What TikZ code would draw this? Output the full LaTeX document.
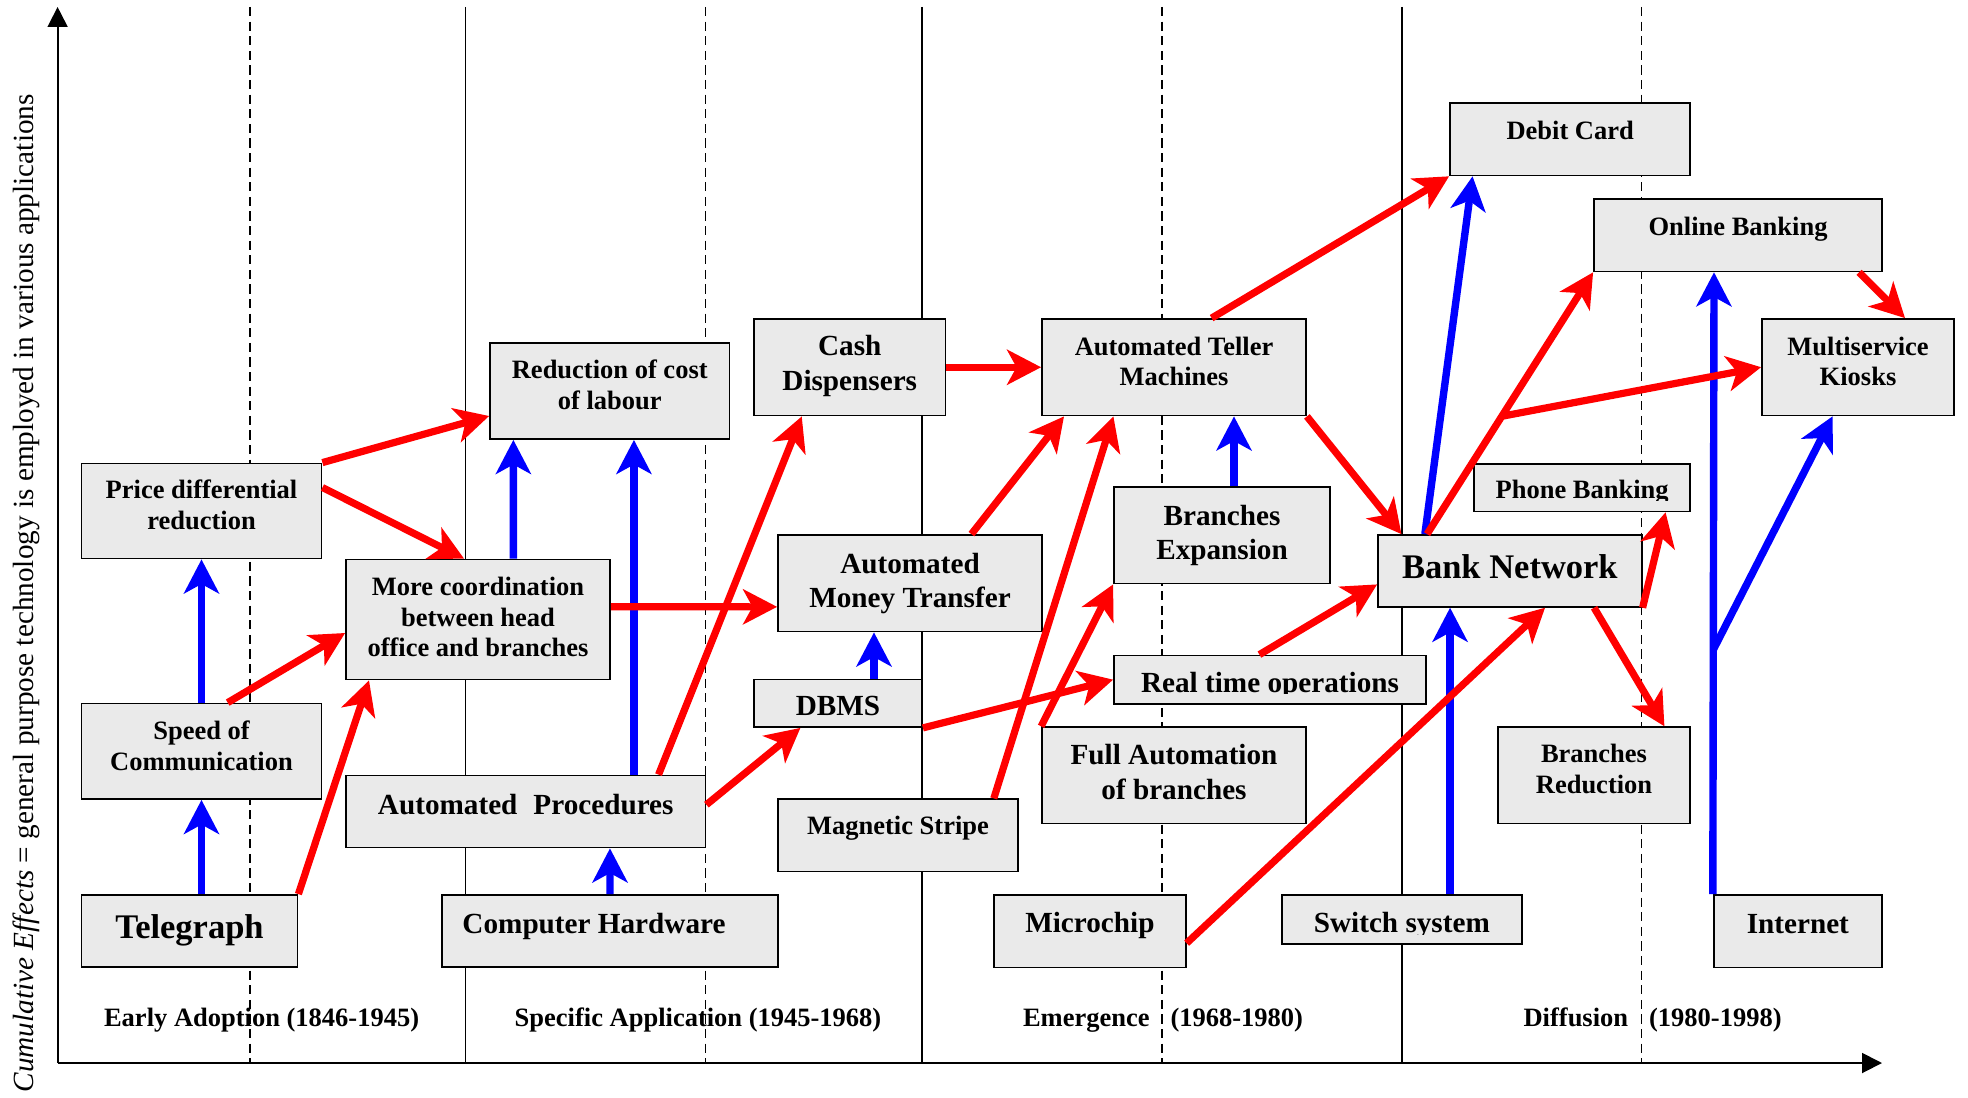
\documentclass[tikz,border=0pt]{standalone}
\usepackage{fontspec}
\usepackage{graphicx}
\usetikzlibrary{arrows.meta,fit,calc}
\newfontfamily\tms{Liberation Serif}
\definecolor{boxgray}{HTML}{EAEAEA}
\definecolor{arrred}{HTML}{FF0000}
\definecolor{arrblue}{HTML}{0000FF}
\newcommand\mkbox[5]{\node[box, fit={(#2,#3) (#4,#5)}] (#1) {};}
\begin{document}
\begin{tikzpicture}[x=0.5pt,y=-0.5pt,
  box/.style={draw=black, fill=boxgray, line width=0.9pt, inner sep=0pt},
  fs/.style={font=\tms\bfseries\fontsize{13.25}{15.25}\selectfont},
  fm/.style={font=\tms\bfseries\fontsize{14.6}{17.25}\selectfont},
  fl/.style={font=\tms\bfseries\fontsize{17.25}{20}\selectfont},
  txt/.style={align=center, inner sep=0pt, anchor=base},
  redarr/.style={draw=arrred, line width=3.6pt, -{Stealth[length=17pt,width=17.5pt,inset=4.7pt]}},
  bluearr/.style={draw=arrblue, line width=3.7pt, -{Stealth[length=17pt,width=17.5pt,inset=4.7pt]}},
  sepline/.style={line width=0.7pt},
  dsepline/.style={line width=0.7pt, dash pattern=on 4.6pt off 2.7pt},
  axis/.style={line width=0.9pt, -{Triangle[length=10pt,width=10pt]}},
]
\useasboundingbox (0,0) rectangle (1968,1097);

% period separators
\foreach \xx in {465.6,922,1402} \draw[sepline] (\xx,7) -- (\xx,1063);
\foreach \xx in {250,705.5,1162,1641.7} \draw[dsepline] (\xx,7) -- (\xx,1063);

% axes
\coordinate (origin) at (57.6,1063);
\coordinate (ytop) at (57.6,7);
\coordinate (xend) at (1882,1063);
\draw[axis] (origin) -- (ytop);
\draw[axis] (origin) -- (xend);
\node[rotate=90, inner sep=0pt] (ylabel) at (26,593.3) {\resizebox{499pt}{!}{\tms\fontsize{14}{16}\selectfont\textit{Cumulative Effects} = general purpose technology is employed in various applications}};

% period labels
\node[txt,fs] (p1) at (261.6,1026) {Early Adoption (1846-1945)};
\node[txt,fs] (p2) at (698,1026) {Specific Application (1945-1968)};
\node[txt,fs] (p3) at (1163,1026) {Emergence\hspace{10.5pt}(1968-1980)};
\node[txt,fs] (p4) at (1652.6,1026) {Diffusion\hspace{10.5pt}(1980-1998)};

% boxes
\mkbox{price}{81.5}{463.5}{321.5}{558.5}
\mkbox{speed}{81.5}{703.5}{321.5}{799}
\mkbox{teleg}{81.5}{895}{297.5}{967}
\mkbox{more}{346}{559.5}{610}{679.5}
\mkbox{redcost}{490}{343}{729.5}{439}
\mkbox{autoproc}{346}{775.5}{705.5}{847.5}
\mkbox{comphw}{442}{895}{778}{967}
\mkbox{cash}{754}{319}{945.5}{415.5}
\mkbox{amt}{778}{535}{1042}{631.5}
\mkbox{dbms}{754}{679.5}{922}{727}
\mkbox{magstripe}{778}{799.3}{1018}{871.4}
\mkbox{atm}{1042}{319}{1306}{415.5}
\mkbox{brexp}{1114}{487}{1330}{583.5}
\mkbox{rto}{1114}{655.5}{1426}{703.8}
\mkbox{fullauto}{1042}{727.2}{1306}{823.5}
\mkbox{microchip}{994}{895}{1185.7}{967.4}
\mkbox{switch}{1281.7}{895}{1522}{943.6}
\mkbox{bank}{1378}{535}{1641.7}{606.8}
\mkbox{debit}{1450}{103.2}{1690.3}{175.4}
\mkbox{online}{1594}{199}{1882}{271.4}
\mkbox{kiosk}{1762}{319}{1954}{415.4}
\mkbox{phone}{1474}{463.6}{1690.3}{511.4}
\mkbox{brred}{1497.7}{727.2}{1690.3}{823.5}
\mkbox{internet}{1713.7}{895}{1882}{967.4}

% box texts (base anchor = baseline of the last line)
\node[txt,fs] (t-price) at (201.5,529) {Price differential\\reduction};
\node[txt,fs] (t-speed) at (201.5,770) {Speed of\\Communication};
\node[txt,fl] (t-teleg) at (189.5,938.6) {Telegraph};
\node[txt,fs] (t-more) at (478,656.5) {More coordination\\between head\\office and branches};
\node[txt,fs] (t-redcost) at (609.75,409) {Reduction of cost\\of labour};
\node[txt,fm] (t-autoproc) at (525.75,814.2) {Automated\hspace{8pt}Procedures};
\node[txt,fm] (t-comphw) at (594,933.6) {Computer Hardware};
\node[txt,fm] (t-cash) at (849.75,390) {Cash\\Dispensers};
\node[txt,fm] (t-amt) at (910,607.5) {Automated\\Money Transfer};
\node[txt,fm] (t-dbms) at (838,715.8) {DBMS};
\node[txt,fs] (t-magstripe) at (898,834.8) {Magnetic Stripe};
\node[txt,fs] (t-atm) at (1174,385.7) {Automated Teller\\Machines};
\node[txt,fm] (t-brexp) at (1222,559.5) {Branches\\Expansion};
\begin{scope}
  \clip (1114,655.5) rectangle (1426,693.5);
  \node[txt,fm] (t-rto) at (1270,692) {Real time operations};
\end{scope}
\node[txt,fm] (t-fullauto) at (1174,799.3) {Full Automation\\of branches};
\node[txt,fm] (t-microchip) at (1089.85,932.5) {Microchip};
\begin{scope}
  \clip (1281.7,895) rectangle (1522,934.3);
  \node[txt,fm] (t-switch) at (1401.85,932.8) {Switch system};
\end{scope}
\node[txt,fl] (t-bank) at (1509.85,578.4) {Bank Network};
\node[txt,fs] (t-debit) at (1570.15,139.3) {Debit Card};
\node[txt,fs] (t-online) at (1738,235.7) {Online Banking};
\node[txt,fs] (t-kiosk) at (1858,385.7) {Multiservice\\Kiosks};
\begin{scope}
  \clip (1474,463.6) rectangle (1690.3,500);
  \node[txt,fs] (t-phone) at (1582.15,498.6) {Phone Banking};
\end{scope}
\node[txt,fs] (t-brred) at (1594,793.3) {Branches\\Reduction};
\node[txt,fm] (t-internet) at (1797.85,933) {Internet};

% blue arrows
\draw[bluearr] ([xshift=6pt]teleg.north) -- (speed.south);
\draw[bluearr] (speed.north) -- (price.south);
\draw[bluearr] (comphw.north) -- ([xshift=42.1pt]autoproc.south);
\draw[bluearr] ([xshift=17.7pt]more.north) -- ([xshift=-48.2pt]redcost.south);
\draw[bluearr] ([xshift=54.1pt]autoproc.north) -- ([xshift=12.1pt]redcost.south);
\draw[bluearr] ([xshift=18pt]dbms.north) -- ([xshift=-18pt]amt.south);
\draw[bluearr] ([xshift=6pt]brexp.north) -- ([xshift=30pt]atm.south);
\draw[bluearr] ([xshift=24.1pt]switch.north) -- ([xshift=-29.9pt]bank.south);
\draw[bluearr] ([xshift=-42.5pt]bank.north) -- ([xshift=-48.8pt]debit.south);
\draw[bluearr] (internet.north west) -- coordinate[pos=0.393] (ibr) ([xshift=-12pt]online.south);
\draw[bluearr] (ibr) -- ([xshift=-12.7pt]kiosk.south);

% red arrows
\draw[redarr] (teleg.north east) -- ([xshift=-54.5pt]more.south);
\draw[redarr] ([xshift=13.1pt]speed.north) -- ([yshift=-6.75pt]more.west);
\draw[redarr] (price.north east) -- ([yshift=-12.5pt]redcost.west);
\draw[redarr] ([yshift=11.75pt]price.east) -- ([xshift=-7pt]more.north);
\draw[redarr] ([yshift=6.35pt]more.east) -- ([yshift=-11.8pt]amt.west);
\draw[redarr] ([xshift=66.4pt]autoproc.north) -- ([xshift=-24pt]cash.south);
\draw[redarr] ([yshift=3.4pt]autoproc.east) -- ([xshift=-18.8pt]dbms.south);
\draw[redarr] (cash.east) -- (atm.west);
\draw[redarr] ([xshift=30.7pt]amt.north) -- ([xshift=-55pt]atm.south);
\draw[redarr] ([xshift=47.9pt]magstripe.north) -- ([xshift=-30.3pt]atm.south);
\draw[redarr] (dbms.south east) -- (rto.west);
\draw[redarr] (fullauto.north west) -- (brexp.south west);
\draw[redarr] ([xshift=-5.3pt]rto.north) -- ([yshift=-6.75pt]bank.west);
\draw[redarr] ([xshift=18.8pt]atm.north) -- (debit.south west);
\draw[redarr] (atm.south east) -- ([xshift=-54.2pt]bank.north);
\draw[redarr] ([yshift=-6pt]microchip.east) -- ([xshift=17.6pt]bank.south);
\draw[redarr] ([xshift=-41.4pt]bank.north) -- coordinate[pos=0.45] (kbr) (online.south west);
\draw[redarr] (kbr) -- (kiosk.west);
\draw[redarr] ([xshift=60.5pt]online.south) -- ([xshift=23.5pt]kiosk.north);
\draw[redarr] (bank.south east) -- ([xshift=41.7pt]phone.south);
\draw[redarr] ([xshift=42.1pt]bank.south) -- ([xshift=35.2pt]brred.north);
\end{tikzpicture}
\end{document}
